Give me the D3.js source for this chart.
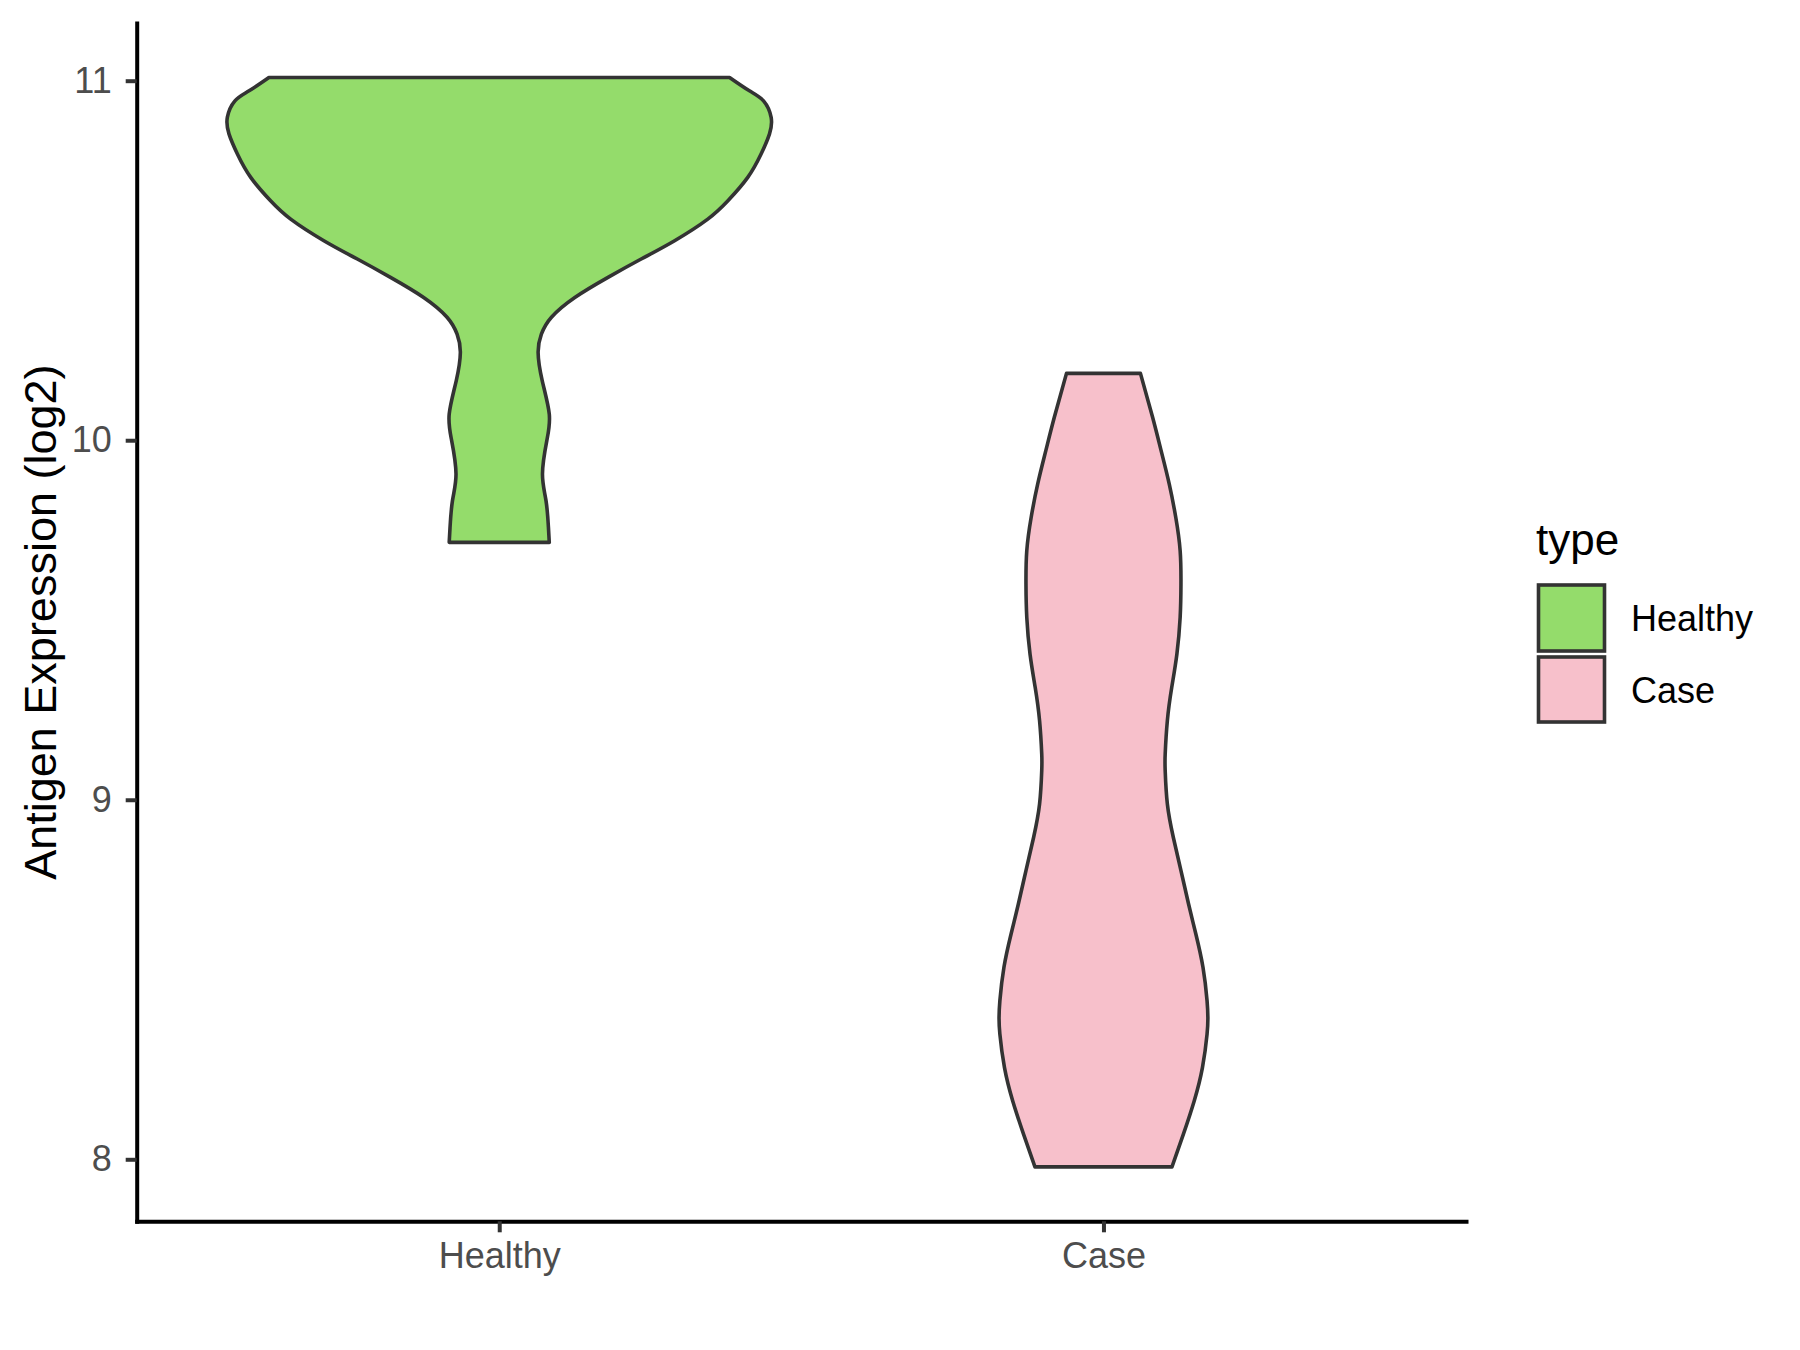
<!DOCTYPE html>
<html>
<head>
<meta charset="utf-8">
<script src="https://cdn.jsdelivr.net/npm/d3@7"></script>
<style>
  html, body { margin: 0; padding: 0; background: #ffffff; }
  svg { display: block; font-family: "Liberation Sans", Arial, sans-serif; }
</style>
</head>
<body>
<svg id="chart" width="1800" height="1350"></svg>
<script>
// ---------------- data ----------------
const categories = ["Healthy", "Case"];
const fillColors = ["#94DC6B", "#F7C0CB"];
const yTicks = [8, 9, 10, 11];
const yTitle = "Antigen Expression (log2)";
const legendTitle = "type";

// Violin outlines: expression value (log2) and scaled density width (1 = widest)
const healthyValues = [11.009, 10.972, 10.944, 10.898, 10.852, 10.796, 10.731, 10.666, 10.615, 10.555,
  10.504, 10.453, 10.397, 10.342, 10.295, 10.244, 10.166, 10.073, 9.999, 9.906, 9.832, 9.757, 9.716];
const healthyDensity = [0.847, 0.920, 0.972, 1.000, 0.994, 0.963, 0.914, 0.841, 0.767, 0.645,
  0.522, 0.400, 0.278, 0.192, 0.155, 0.143, 0.158, 0.184, 0.175, 0.159, 0.172, 0.181, 0.184];

const caseValues = [10.186, 10.063, 9.971, 9.878, 9.785, 9.693, 9.600, 9.507, 9.405, 9.312, 9.220,
  9.127, 9.081, 8.988, 8.895, 8.803, 8.710, 8.626, 8.534, 8.441, 8.394, 8.348, 8.255, 8.163, 8.070, 7.979];
const caseDensity = [0.136, 0.181, 0.212, 0.242, 0.266, 0.282, 0.285, 0.282, 0.270, 0.251, 0.235,
  0.227, 0.227, 0.235, 0.257, 0.285, 0.313, 0.340, 0.366, 0.381, 0.384, 0.381, 0.364, 0.334, 0.294, 0.252];

// ---------------- layout ----------------
const svg = d3.select("#chart");
const panel = { left: 136.7, right: 1466, top: 23, bottom: 1221.3 };
const FONT_TICK = 36, FONT_TITLE = 45;

const series = [
  { name: categories[0], values: healthyValues, density: healthyDensity, fill: fillColors[0] },
  { name: categories[1], values: caseValues, density: caseDensity, fill: fillColors[1] }
];

const allVals = healthyValues.concat(caseValues);
const vMin = d3.min(allVals), vMax = d3.max(allVals);
const pad = (vMax - vMin) * 0.05;

const x = d3.scalePoint().domain(categories).range([panel.left, panel.right]).padding(0.6);
const y = d3.scaleLinear().domain([vMin - pad, vMax + pad]).range([panel.bottom, panel.top]);
const w = d3.scaleLinear().domain([0, 1]).range([0, 0.45 * x.step()]);

// ---------------- violins ----------------
const gV = svg.append("g");
series.forEach(s => {
  const pts = s.values.map((v, i) => ({ v: v, d: s.density[i] }));
  const cx = x(s.name);
  const area = d3.area()
    .y(p => y(p.v))
    .x0(p => cx - w(p.d))
    .x1(p => cx + w(p.d))
    .curve(d3.curveNatural);
  gV.append("path")
    .datum(pts)
    .attr("d", area)
    .attr("fill", s.fill)
    .attr("stroke", "#333333")
    .attr("stroke-width", 3.6)
    .attr("stroke-linejoin", "round");
});

// ---------------- axes ----------------
const yAxis = d3.axisLeft(y).tickValues(yTicks).tickSize(11).tickSizeOuter(0).tickPadding(14)
  .tickFormat(d3.format("d"));
const gy = svg.append("g").attr("transform", `translate(${panel.left},0)`).call(yAxis);

const xAxis = d3.axisBottom(x).tickSize(11).tickSizeOuter(0).tickPadding(10);
const gx = svg.append("g").attr("transform", `translate(0,${panel.bottom})`).call(xAxis);

[gx, gy].forEach(g => {
  g.select(".domain").attr("stroke", "#000000").attr("stroke-width", 4).attr("stroke-linecap", "square");
  g.selectAll(".tick line").attr("stroke", "#333333").attr("stroke-width", 4);
  g.selectAll(".tick text")
    .attr("fill", "#4D4D4D")
    .attr("font-size", FONT_TICK)
    .attr("font-family", "'Liberation Sans', Arial, sans-serif");
});

// y axis title
svg.append("text")
  .attr("transform", `translate(56,${(panel.top + panel.bottom) / 2}) rotate(-90)`)
  .attr("text-anchor", "middle")
  .attr("font-size", FONT_TITLE)
  .attr("fill", "#000000")
  .text(yTitle);

// ---------------- legend ----------------
const lg = svg.append("g");
lg.append("text")
  .attr("x", 1536)
  .attr("y", 555)
  .attr("font-size", 44)
  .attr("fill", "#000000")
  .text(legendTitle);

const keySize = 66, keyX = 1538.5, keyY0 = 585, keyGap = 72;
series.forEach((s, i) => {
  lg.append("rect")
    .attr("x", keyX)
    .attr("y", keyY0 + i * keyGap)
    .attr("width", keySize)
    .attr("height", keySize - (i === 1 ? 1 : 0))
    .attr("fill", s.fill)
    .attr("stroke", "#333333")
    .attr("stroke-width", 3.6);
  lg.append("text")
    .attr("x", 1631)
    .attr("y", keyY0 + i * keyGap + keySize / 2 + 13)
    .attr("font-size", FONT_TICK)
    .attr("fill", "#000000")
    .text(s.name);
});
</script>
</body>
</html>
